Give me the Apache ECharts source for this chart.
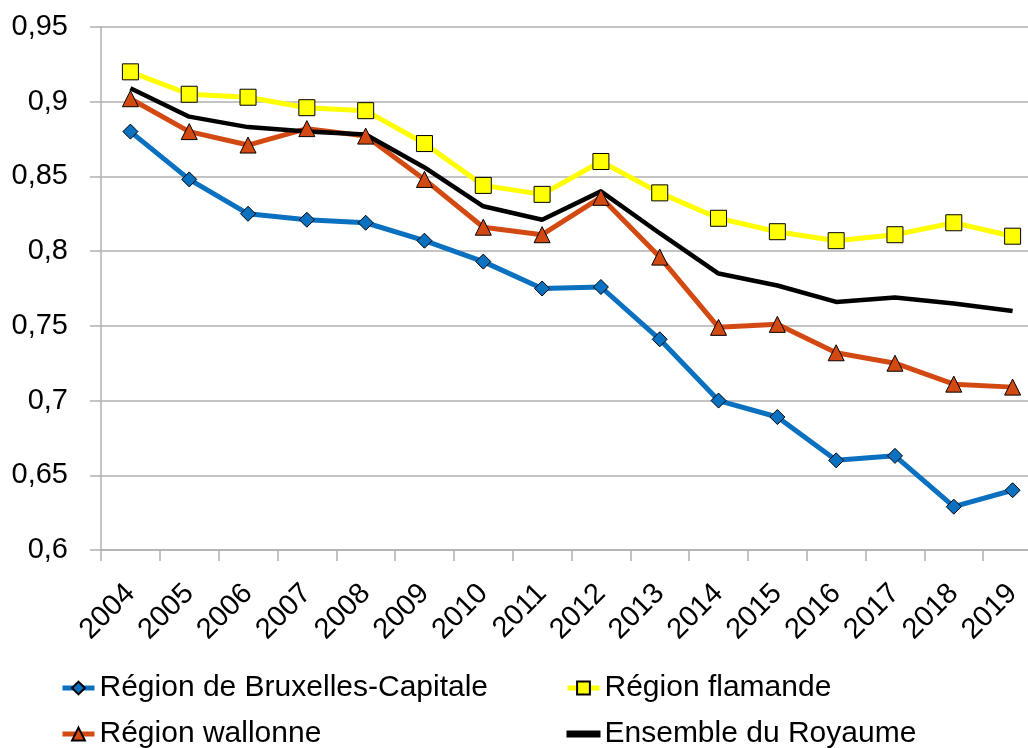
<!DOCTYPE html>
<html>
<head>
<meta charset="utf-8">
<script src="https://cdn.jsdelivr.net/npm/echarts@6/dist/echarts.min.js"></script>
<style>
  html, body { margin: 0; padding: 0; background: #fff; }
  #chart { width: 1028px; height: 748px; }
</style>
</head>
<body>
<div id="chart"></div>
<script>
const years = ['2004', '2005', '2006', '2007', '2008', '2009', '2010', '2011',
    '2012', '2013', '2014', '2015', '2016', '2017', '2018', '2019'];

const bruxelles = [0.880, 0.848, 0.825, 0.821, 0.819, 0.807, 0.793, 0.775,
    0.776, 0.741, 0.700, 0.689, 0.660, 0.663, 0.629, 0.640];
const flamande = [0.920, 0.905, 0.903, 0.896, 0.894, 0.872, 0.844, 0.838,
    0.860, 0.839, 0.822, 0.813, 0.807, 0.811, 0.819, 0.810];
const wallonne = [0.902, 0.880, 0.871, 0.882, 0.877, 0.848, 0.816, 0.811,
    0.836, 0.796, 0.749, 0.751, 0.732, 0.725, 0.711, 0.709];
const royaume = [0.909, 0.890, 0.883, 0.880, 0.878, 0.856, 0.830, 0.821,
    0.840, 0.812, 0.785, 0.777, 0.766, 0.769, 0.765, 0.760];

const font = 'Liberation Sans, Arial, sans-serif';
const gridColor = '#b0b0b0';
// plain line icon for the series without markers
const lineIcon = 'path://M0,0L0,0M0,5L32,5L32,10L0,10ZM32,15L32,15';

const chart = echarts.init(document.getElementById('chart'));

function lineSerie(name, data, color, symbol, size, width) {
    return {
        name: name,
        type: 'line',
        data: data,
        symbol: symbol,
        symbolSize: size,
        showSymbol: symbol !== 'none',
        itemStyle: {
            color: color,
            borderColor: '#000',
            borderWidth: 1
        },
        lineStyle: {
            color: color,
            width: width
        },
        z: 2
    };
}

const legendBase = {
    top: 673,
    height: 100,
    orient: 'vertical',
    padding: 0,
    itemGap: 16,
    itemWidth: 32,
    itemHeight: 16,
    lineStyle: { width: 5 },
    textStyle: { fontSize: 30, lineHeight: 30, fontFamily: font, color: '#000' }
};

chart.setOption({
    animation: false,
    backgroundColor: '#fff',
    textStyle: { fontFamily: font, color: '#000' },
    grid: {
        left: 101,
        right: -14,
        top: 27,
        bottom: 198,
        containLabel: false,
        outerBoundsMode: 'none'
    },
    legend: [
        Object.assign({}, legendBase, {
            left: 60,
            data: ['Région de Bruxelles-Capitale', 'Région wallonne']
        }),
        Object.assign({}, legendBase, {
            left: 565,
            data: ['Région flamande', { name: 'Ensemble du Royaume', icon: lineIcon }]
        })
    ],
    xAxis: {
        type: 'category',
        data: years,
        boundaryGap: true,
        axisLine: { lineStyle: { color: gridColor, width: 1.5 } },
        axisTick: { show: true, length: 11, lineStyle: { color: gridColor, width: 1.5 } },
        axisLabel: {
            rotate: 45,
            margin: 39,
            fontSize: 29,
            color: '#000',
            fontFamily: font,
            interval: 0
        }
    },
    yAxis: {
        type: 'value',
        min: 0.6,
        max: 0.95,
        interval: 0.05,
        axisLine: { show: true, lineStyle: { color: gridColor, width: 1.5 } },
        axisTick: { show: true, length: 11, lineStyle: { color: gridColor, width: 1.5 } },
        splitLine: { lineStyle: { color: gridColor, width: 1.5 } },
        axisLabel: {
            margin: 33,
            fontSize: 29,
            color: '#000',
            fontFamily: font,
            formatter: function (v) {
                return String(+v.toFixed(2)).replace('.', ',');
            }
        }
    },
    series: [
        lineSerie('Région de Bruxelles-Capitale', bruxelles, '#0a70c0', 'diamond', 15, 5),
        lineSerie('Région flamande', flamande, '#ffff00', 'rect', 16, 5),
        lineSerie('Région wallonne', wallonne, '#d24a12', 'triangle', 16, 5),
        lineSerie('Ensemble du Royaume', royaume, '#000000', 'none', 0, 4.5)
    ]
});
</script>
</body>
</html>
